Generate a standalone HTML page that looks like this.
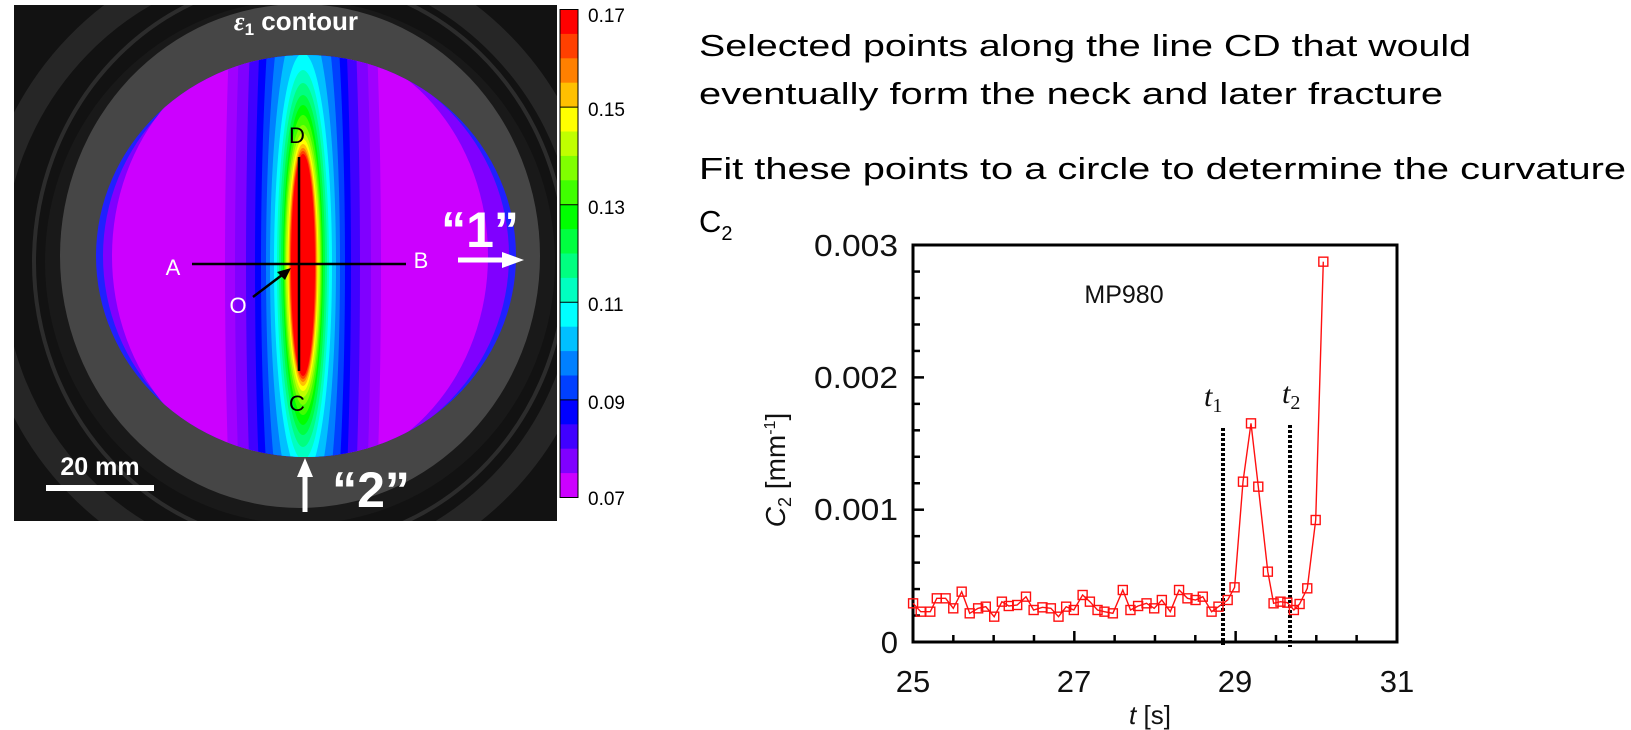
<!DOCTYPE html>
<html><head><meta charset="utf-8"><style>
html,body{margin:0;padding:0;background:#fff;overflow:hidden;width:1631px;height:730px;}
svg{display:block;}
</style></head><body>
<svg id="s" width="1631" height="730" viewBox="0 0 1631 730" xmlns="http://www.w3.org/2000/svg" font-family="Liberation Sans, sans-serif">
<rect width="1631" height="730" fill="#fff"/>
<defs>
<clipPath id="disk"><ellipse cx="306" cy="256" rx="210" ry="201"/></clipPath>
<clipPath id="photo"><rect x="14" y="5" width="543" height="516"/></clipPath>
</defs>
<g clip-path="url(#photo)">
<rect x="14" y="5" width="543" height="516" fill="#121212"/>
<ellipse cx="290" cy="265" rx="300" ry="310" fill="none" stroke="#262626" stroke-width="26"/>
<ellipse cx="300" cy="262" rx="266" ry="283" fill="none" stroke="#2c2c2c" stroke-width="4"/>
<ellipse cx="300" cy="262" rx="255" ry="262" fill="#191919"/>
<ellipse cx="300" cy="256" rx="240" ry="252" fill="#464646"/>
<g clip-path="url(#disk)">
<rect x="90" y="50" width="430" height="410" fill="#2020ff"/>
<ellipse cx="306" cy="256" rx="203" ry="205" fill="#8000ff"/>
<ellipse cx="300" cy="256" rx="188" ry="215" fill="#cc00ff"/>
<g id="bands"></g>
</g>
<line x1="192" y1="264" x2="406" y2="264" stroke="#000" stroke-width="2.5"/>
<line x1="299" y1="157" x2="299" y2="371" stroke="#000" stroke-width="2.5"/>
<line x1="253" y1="297" x2="286" y2="272" stroke="#000" stroke-width="2.5"/>
<polygon points="291,268 277,272 285,280" fill="#000"/>
<text x="297" y="143" font-size="22" text-anchor="middle" fill="#000">D</text>
<text x="297" y="411" font-size="22" text-anchor="middle" fill="#000">C</text>
<text x="173" y="275" font-size="22" text-anchor="middle" fill="#fff">A</text>
<text x="421" y="268" font-size="22" text-anchor="middle" fill="#fff">B</text>
<text x="238" y="313" font-size="22" text-anchor="middle" fill="#fff">O</text>
<text x="296" y="30" font-size="26" font-weight="bold" text-anchor="middle" fill="#fff"><tspan font-family="Liberation Serif, serif" font-style="italic">ε</tspan><tspan font-size="17" dy="5">1</tspan><tspan dy="-5"> contour</tspan></text>
<text x="480" y="247" font-size="50" font-weight="bold" text-anchor="middle" fill="#fff">“1”</text>
<line x1="458" y1="260" x2="505" y2="260" stroke="#fff" stroke-width="5"/>
<polygon points="524,260 502,252 502,268" fill="#fff"/>
<text x="371" y="507" font-size="50" font-weight="bold" text-anchor="middle" fill="#fff">“2”</text>
<line x1="305" y1="475" x2="305" y2="512" stroke="#fff" stroke-width="5"/>
<polygon points="305,458 297,477 313,477" fill="#fff"/>
<text x="100" y="475" font-size="25" font-weight="bold" text-anchor="middle" fill="#fff">20 mm</text>
<rect x="46" y="485" width="108" height="6" fill="#fff"/>
</g>
<g id="cbar"></g>
<rect x="560" y="9.5" width="18" height="488" fill="none" stroke="#000" stroke-width="1"/>
<g font-size="19" fill="#000">
<text x="588" y="22">0.17</text>
<text x="588" y="116">0.15</text>
<text x="588" y="214">0.13</text>
<text x="588" y="311">0.11</text>
<text x="588" y="409">0.09</text>
<text x="588" y="505">0.07</text>
</g>
<g font-size="31" fill="#000">
<text x="699" y="56" textLength="772" lengthAdjust="spacingAndGlyphs">Selected points along the line CD that would</text>
<text x="699" y="104" textLength="744" lengthAdjust="spacingAndGlyphs">eventually form the neck and later fracture</text>
<text x="699" y="179" textLength="927" lengthAdjust="spacingAndGlyphs">Fit these points to a circle to determine the curvature</text>
<text x="699" y="232">C<tspan font-size="20" dy="8">2</tspan></text>
</g>
<g id="chart">
<rect x="913" y="245" width="484" height="397" fill="none" stroke="#000" stroke-width="3"/>
<g id="ticks" stroke="#000" stroke-width="2.5"></g>
<g font-size="31" fill="#111" text-anchor="end">
<text x="898" y="256" textLength="84" lengthAdjust="spacingAndGlyphs">0.003</text>
<text x="898" y="388" textLength="84" lengthAdjust="spacingAndGlyphs">0.002</text>
<text x="898" y="520" textLength="84" lengthAdjust="spacingAndGlyphs">0.001</text>
<text x="898" y="653">0</text>
</g>
<g font-size="31" fill="#111" text-anchor="middle">
<text x="913" y="692">25</text>
<text x="1074" y="692">27</text>
<text x="1235" y="692">29</text>
<text x="1397" y="692">31</text>
</g>
<text x="1150" y="724" font-size="26" text-anchor="middle" fill="#111"><tspan font-style="italic">t</tspan> [s]</text>
<text transform="translate(785,470) rotate(-90)" font-size="28" text-anchor="middle" fill="#111"><tspan font-style="italic">C</tspan><tspan font-size="18" dy="6">2</tspan><tspan dy="-6"> [mm</tspan><tspan font-size="16" dy="-10">-1</tspan><tspan dy="10">]</tspan></text>
<text x="1124" y="303" font-size="25" text-anchor="middle" fill="#111">MP980</text>
<line x1="1223" y1="428" x2="1223" y2="645" stroke="#000" stroke-width="4" stroke-dasharray="3,2"/>
<line x1="1290" y1="425" x2="1290" y2="647" stroke="#000" stroke-width="4" stroke-dasharray="3,2"/>
<text x="1204" y="406" font-size="30" font-family="Liberation Serif, serif" font-style="italic" fill="#111">t<tspan font-size="20" font-style="normal" dy="6">1</tspan></text>
<text x="1282" y="403" font-size="30" font-family="Liberation Serif, serif" font-style="italic" fill="#111">t<tspan font-size="20" font-style="normal" dy="6">2</tspan></text>
<g id="data"></g>
</g>
</svg>
<script>
var NS="http://www.w3.org/2000/svg";
function el(p,n,a){var e=document.createElementNS(NS,n);for(var k in a)e.setAttribute(k,a[k]);p.appendChild(e);return e;}
var cols=["#ff0000","#ff4000","#ff8000","#ffc000","#ffff00","#c0ff00","#80ff00","#40ff00","#00ff00","#00ff40","#00ff80","#00ffc0","#00ffff","#00c0ff","#0080ff","#0040ff","#0000ff","#4000ff","#8000ff","#cc00ff"];
var cb=document.getElementById("cbar");
for(var i=0;i<20;i++){el(cb,"rect",{x:560,y:9.5+i*24.4,width:18,height:24.9,fill:cols[i]});}
[0,4,8,12,16].forEach(function(i){el(cb,"line",{x1:560,x2:578,y1:9.5+i*24.4,y2:9.5+i*24.4,stroke:"#000","stroke-width":1});});
var b=document.getElementById("bands");
var lv=[["#a000ff",78,700],["#8000ff",68,650],["#4000ff",57,600],["#0000ff",48,520],["#0040ff",42,420],["#0080ff",37,320],["#00c0ff",33,250],["#00ffff",29,212],["#00ffc0",26,195],["#00ff80",24,182],["#00ff40",22,170],["#00ff00",20,160],["#40ff00",19,150],["#80ff00",18,140],["#c0ff00",17,132],["#ffff00",15.5,126],["#ffc000",14.5,121],["#ff8000",13.5,117],["#ff4000",13,114],["#ff0000",12,111]];
lv.forEach(function(l){el(b,"ellipse",{cx:303,cy:265,rx:l[1],ry:l[2],fill:l[0]});});
var t=document.getElementById("ticks");
for(var v=0;v<=15;v++){var y=642-v*26.46;var L=(v%5==0)?11:7;el(t,"line",{x1:913,x2:913+L,y1:y,y2:y});}
for(var k=0;k<=12;k++){var x=913+k*40.33;var L=(k%4==0)?11:7;el(t,"line",{x1:x,x2:x,y1:642,y2:642-L});}
var z=[[400,1120],[420,1145],[445,1145],[462,1105],[485,1105],[505,1135],[527,1085],[548,1150],[570,1135],[590,1130],[612,1160],[632,1115],[650,1128],[672,1125],[695,1100],[715,1140],[738,1132],[760,1135],[780,1160],[800,1130],[820,1140],[843,1095],[862,1115],[882,1140],[900,1145],[922,1150],[948,1080],[968,1140],[988,1128],[1010,1120],[1030,1135],[1050,1110],[1072,1145],[1095,1080],[1117,1105],[1138,1110],[1157,1100],[1180,1145],[1198,1130],[1222,1110],[1240,1072],[1262,755],[1283,580],[1302,770],[1327,1025],[1342,1120],[1360,1115],[1378,1118],[1395,1140],[1410,1122],[1430,1075],[1452,870],[1472,95]];
var d=document.getElementById("data");var pts=[];
z.forEach(function(p){pts.push([760+p[0]/2.613,230+p[1]/3]);});
el(d,"polyline",{points:pts.map(function(p){return p[0].toFixed(1)+","+p[1].toFixed(1);}).join(" "),fill:"none",stroke:"#ff1010","stroke-width":1.4});
pts.forEach(function(p){el(d,"rect",{x:p[0]-4.5,y:p[1]-4.5,width:9,height:9,fill:"none",stroke:"#ff1010","stroke-width":1.4});});
</script>
</body></html>
